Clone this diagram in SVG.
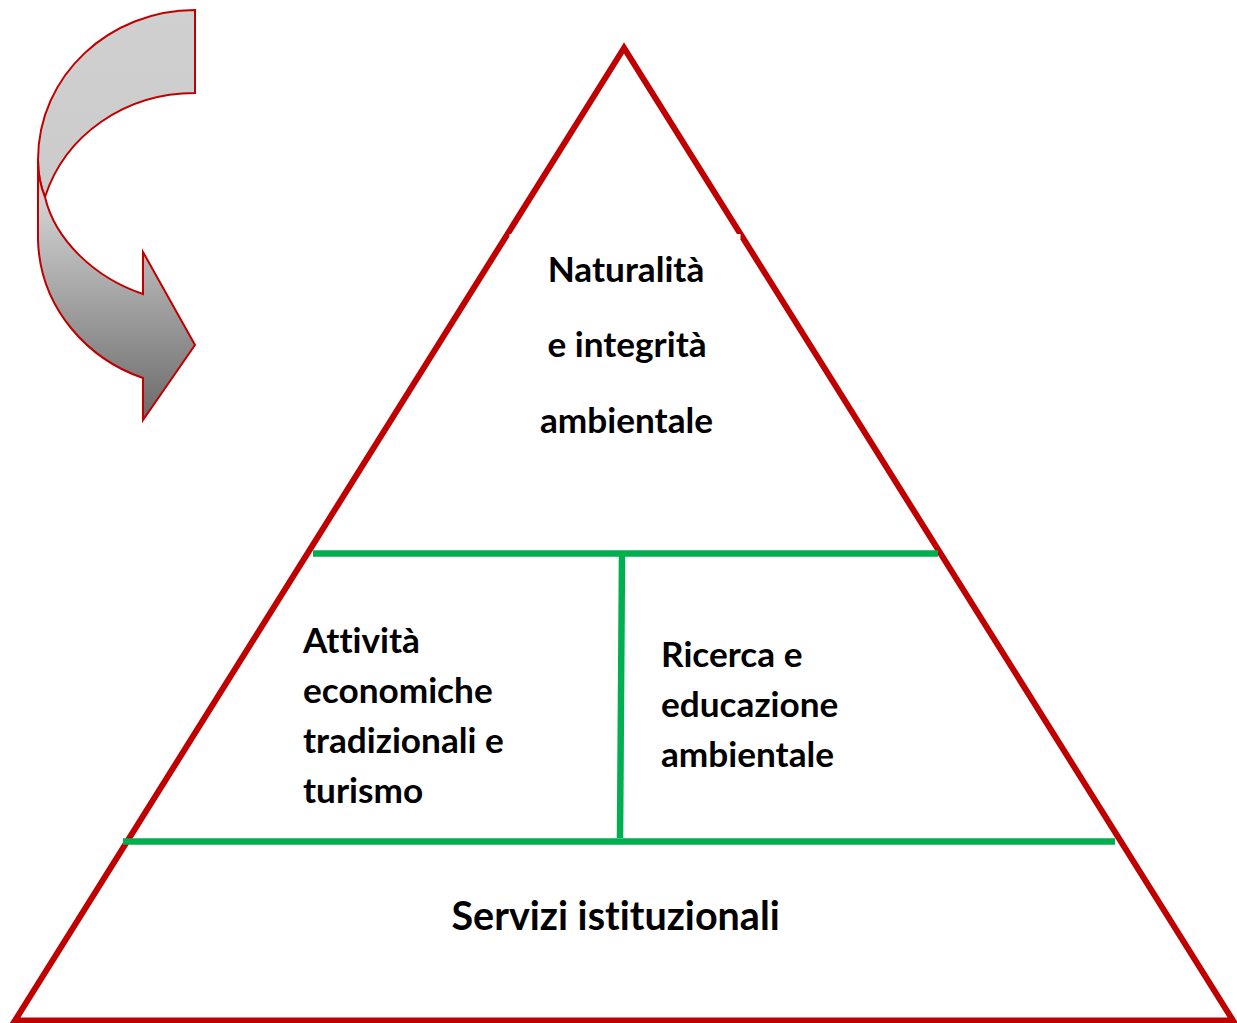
<svg xmlns="http://www.w3.org/2000/svg" width="1237" height="1023" viewBox="0 0 1237 1023">
  <defs>
    <linearGradient id="backFill" x1="0" y1="0" x2="0" y2="1">
      <stop offset="0" stop-color="#d0d0d0"/>
      <stop offset="1" stop-color="#cbcbcb"/>
    </linearGradient>
    <linearGradient id="frontFill" gradientUnits="userSpaceOnUse" x1="0" y1="200" x2="0" y2="420">
      <stop offset="0" stop-color="#d2d2d2"/>
      <stop offset="1" stop-color="#6a6a6a"/>
    </linearGradient>
    <style>
      .arrow { stroke: #c00000; stroke-width: 2; stroke-linejoin: miter; }
      .tri { fill: none; stroke: #c00000; stroke-width: 6; stroke-linejoin: miter; stroke-miterlimit: 10; }
      .div { stroke: #00b050; stroke-width: 6.5; fill: none; }
      .lbl { font-family: Lato, "Liberation Sans", sans-serif; font-weight: bold; fill: #000; font-variant-ligatures: none; font-feature-settings: "liga" 0, "clig" 0; }
      .mid { font-size: 35.2px; }
      .big { font-size: 39.5px; }
    </style>
  </defs>
  <rect x="0" y="0" width="1237" height="1023" fill="#ffffff"/>

  <g id="curved-arrow">
    <path class="arrow" fill="url(#backFill)" d="M195,10 L195,93 C125,93 65,135 45,197 C40,185 38,172 38,160 C38,75 110,10 195,10 Z"/>
    <path class="arrow" fill="url(#frontFill)" d="M38,160 L38,240 C40,310 90,360 143,378 L143,420 L195,345 L143,252 L143,294 C95,278 55,240 45,197 C40,185 38,172 38,160 Z"/>
  </g>

  <g id="pyramid">
    <polygon class="tri" points="624,48 15,1020.5 1233,1020.5"/>
    <rect x="509.5" y="234" width="231" height="5" fill="#ffffff"/>
  </g>

  <g id="connectors">
    <line class="div" x1="313" y1="553.5" x2="938" y2="553.5"/>
    <line class="div" x1="622" y1="556" x2="620" y2="838"/>
    <line class="div" x1="123" y1="841.5" x2="1115" y2="841.5"/>
  </g>

  <g id="node-top">
    <text class="lbl mid" x="626" y="281.7" text-anchor="middle">Naturalità</text>
    <text class="lbl mid" x="627" y="356.7" text-anchor="middle">e integrità</text>
    <text class="lbl mid" x="626.5" y="433.3" text-anchor="middle">ambientale</text>
  </g>

  <g id="node-left">
    <text class="lbl mid" x="303" y="652.7">Attività</text>
    <text class="lbl mid" x="303" y="702.9">economiche</text>
    <text class="lbl mid" x="303" y="753.1">tradizionali e</text>
    <text class="lbl mid" x="303" y="803.3">turismo</text>
  </g>

  <g id="node-right">
    <text class="lbl mid" x="661" y="667.3">Ricerca e</text>
    <text class="lbl mid" x="661" y="717.3">educazione</text>
    <text class="lbl mid" x="661" y="767.3">ambientale</text>
  </g>

  <g id="node-bottom">
    <text class="lbl big" x="451.5" y="930">Servizi istituzionali</text>
  </g>
</svg>
